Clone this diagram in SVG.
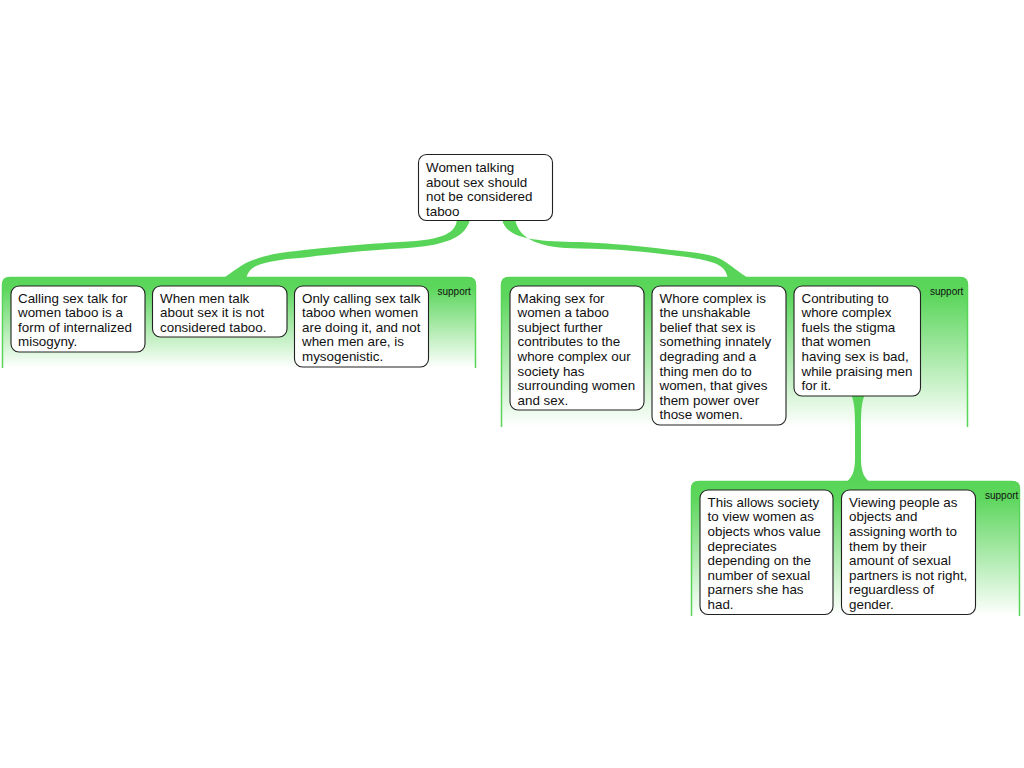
<svg xmlns="http://www.w3.org/2000/svg" width="1024" height="768" viewBox="0 0 1024 768">
<defs>
<linearGradient id="gg" x1="0" y1="0" x2="0" y2="1">
<stop offset="0" stop-color="#58d558"/>
<stop offset="0.12" stop-color="#5cd65c"/>
<stop offset="1" stop-color="#ffffff"/>
</linearGradient>
<style>
.grp{fill:url(#gg);stroke:none}
.gedge{fill:none;stroke:#58d558;stroke-width:1.5}
.box{fill:#fff;stroke:#222;stroke-width:1.1}
.t{font-family:"Liberation Sans",Arial,sans-serif;font-size:13.4px;fill:#111}
.s{font-family:"Liberation Sans",Arial,sans-serif;font-size:10px;fill:#111}
.con{fill:#58d558;stroke:none}
</style>
</defs>
<rect width="1024" height="768" fill="#fff"/>

<g id="group1">
<path class="grp" d="M2 368 L2 285 Q2 277 10 277 L468 277 Q476 277 476 285 L476 368 Z"/>
<path class="gedge" d="M2.5 368 L2.5 285 Q2.5 277.5 10 277.5 L468 277.5 Q475.5 277.5 475.5 285 L475.5 368"/>
<text class="s" x="437.5" y="294.5">support</text>
</g>
<g id="group2">
<path class="grp" d="M501 427 L501 285 Q501 277 509 277 L960 277 Q968 277 968 285 L968 427 Z"/>
<path class="gedge" d="M501.5 427 L501.5 285 Q501.5 277.5 509 277.5 L960 277.5 Q967.5 277.5 967.5 285 L967.5 427"/>
<text class="s" x="930" y="294.5">support</text>
</g>
<g id="group3">
<path class="grp" d="M691 616 L691 489 Q691 481 699 481 L1012 481 Q1020 481 1020 489 L1020 616 Z"/>
<path class="gedge" d="M691.5 616 L691.5 489 Q691.5 481.5 699 481.5 L1012 481.5 Q1019.5 481.5 1019.5 489 L1019.5 616"/>
<text class="s" x="985" y="498.5">support</text>
</g>

<g id="connectors">
<path class="con" d="M457 219 C456 232 446 240 400 242 C350 245 300 250 280 253 C262 256 245 262 238 268 C232 272 228 275 222 279 L246 279 C247 274 250 269 256 266 C265 262 282 259 300 258 C340 253 370 250 400 248.5 C445 246 466 238 470 219 Z"/>
<path class="con" d="M502 219 C505 236 527 242 580 242 C630 244 670 250 690 252 C705 254 717 256 724 261 C732 266 738 272 750 279 L728 279 C727 274 725 269 720 266 C714 262 705 260 690 257.5 C650 252 620 249 580 248.5 C540 248 519 240 515 219 Z"/>
<path class="con" d="M851 394 C855 403 855 414 855 430 L855 458 C855 472 852 478 845 483 L871 483 C864 478 861 472 861 458 L861 430 C861 414 861 403 865 394 Z"/>
</g>

<g id="root">
<rect class="box" x="418.5" y="154.5" width="134" height="66" rx="8"/>
<text class="t" x="426" y="172"><tspan x="426">Women talking</tspan><tspan x="426" dy="14.6">about sex should</tspan><tspan x="426" dy="14.6">not be considered</tspan><tspan x="426" dy="14.6">taboo</tspan></text>
</g>

<g id="n1">
<rect class="box" x="11" y="286" width="134" height="66" rx="8"/>
<text class="t" x="18" y="302.5"><tspan x="18">Calling sex talk for</tspan><tspan x="18" dy="14.6">women taboo is a</tspan><tspan x="18" dy="14.6">form of internalized</tspan><tspan x="18" dy="14.6">misogyny.</tspan></text>
</g>
<g id="n2">
<rect class="box" x="152.5" y="286" width="134.5" height="51" rx="8"/>
<text class="t" x="160" y="302.5"><tspan x="160">When men talk</tspan><tspan x="160" dy="14.6">about sex it is not</tspan><tspan x="160" dy="14.6">considered taboo.</tspan></text>
</g>
<g id="n3">
<rect class="box" x="294.5" y="286" width="134" height="81" rx="8"/>
<text class="t" x="302" y="302.5"><tspan x="302">Only calling sex talk</tspan><tspan x="302" dy="14.6">taboo when women</tspan><tspan x="302" dy="14.6">are doing it, and not</tspan><tspan x="302" dy="14.6">when men are, is</tspan><tspan x="302" dy="14.6">mysogenistic.</tspan></text>
</g>

<g id="n4">
<rect class="box" x="510" y="286" width="134" height="124" rx="8"/>
<text class="t" x="517.5" y="302.5"><tspan x="517.5">Making sex for</tspan><tspan x="517.5" dy="14.6">women a taboo</tspan><tspan x="517.5" dy="14.6">subject further</tspan><tspan x="517.5" dy="14.6">contributes to the</tspan><tspan x="517.5" dy="14.6">whore complex our</tspan><tspan x="517.5" dy="14.6">society has</tspan><tspan x="517.5" dy="14.6">surrounding women</tspan><tspan x="517.5" dy="14.6">and sex.</tspan></text>
</g>
<g id="n5">
<rect class="box" x="652" y="286" width="134" height="139" rx="8"/>
<text class="t" x="659.5" y="302.5"><tspan x="659.5">Whore complex is</tspan><tspan x="659.5" dy="14.6">the unshakable</tspan><tspan x="659.5" dy="14.6">belief that sex is</tspan><tspan x="659.5" dy="14.6">something innately</tspan><tspan x="659.5" dy="14.6">degrading and a</tspan><tspan x="659.5" dy="14.6">thing men do to</tspan><tspan x="659.5" dy="14.6">women, that gives</tspan><tspan x="659.5" dy="14.6">them power over</tspan><tspan x="659.5" dy="14.6">those women.</tspan></text>
</g>
<g id="n6">
<rect class="box" x="794" y="286" width="126.5" height="110" rx="8"/>
<text class="t" x="801.5" y="302.5"><tspan x="801.5">Contributing to</tspan><tspan x="801.5" dy="14.6">whore complex</tspan><tspan x="801.5" dy="14.6">fuels the stigma</tspan><tspan x="801.5" dy="14.6">that women</tspan><tspan x="801.5" dy="14.6">having sex is bad,</tspan><tspan x="801.5" dy="14.6">while praising men</tspan><tspan x="801.5" dy="14.6">for it.</tspan></text>
</g>

<g id="n7">
<rect class="box" x="700" y="490" width="133" height="124.5" rx="8"/>
<text class="t" x="707.5" y="506.7"><tspan x="707.5">This allows society</tspan><tspan x="707.5" dy="14.6">to view women as</tspan><tspan x="707.5" dy="14.6">objects whos value</tspan><tspan x="707.5" dy="14.6">depreciates</tspan><tspan x="707.5" dy="14.6">depending on the</tspan><tspan x="707.5" dy="14.6">number of sexual</tspan><tspan x="707.5" dy="14.6">parners she has</tspan><tspan x="707.5" dy="14.6">had.</tspan></text>
</g>
<g id="n8">
<rect class="box" x="841.5" y="490" width="134" height="124.5" rx="8"/>
<text class="t" x="849" y="506.7"><tspan x="849">Viewing people as</tspan><tspan x="849" dy="14.6">objects and</tspan><tspan x="849" dy="14.6">assigning worth to</tspan><tspan x="849" dy="14.6">them by their</tspan><tspan x="849" dy="14.6">amount of sexual</tspan><tspan x="849" dy="14.6">partners is not right,</tspan><tspan x="849" dy="14.6">reguardless of</tspan><tspan x="849" dy="14.6">gender.</tspan></text>
</g>
</svg>
